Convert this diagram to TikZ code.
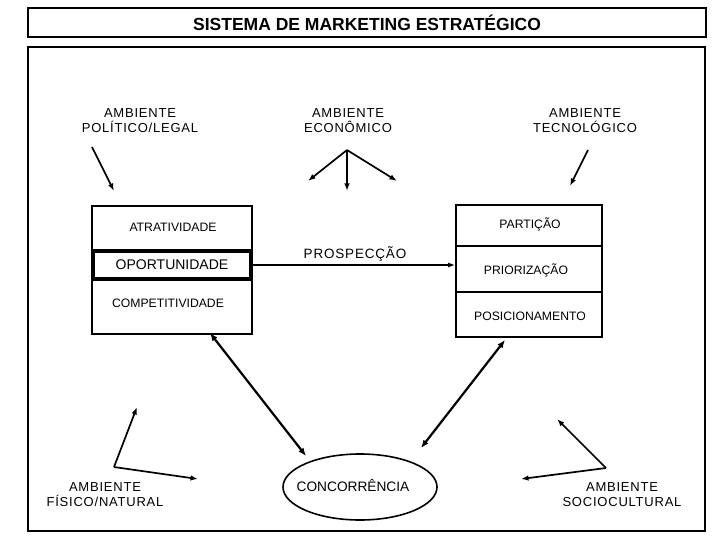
\documentclass[tikz,border=0pt]{standalone}
\usepackage{fontspec}
\setmainfont{Liberation Sans}
\newfontfamily\spacedfont[LetterSpace=6]{Liberation Sans}
\usetikzlibrary{arrows.meta,shapes.geometric}
\begin{document}
\begin{tikzpicture}[x=1pt,y=-1pt,
  lbl/.style={font=\spacedfont\fontsize{13}{15}\selectfont, align=center, inner sep=0pt},
  sml/.style={font=\fontsize{12.2}{14}\selectfont, inner sep=0pt},
  thinarrow/.style={line width=1.7pt, -{Latex[length=7.5pt,width=5.5pt]}},
  dblarrow/.style={line width=2.2pt, {Latex[length=8pt,width=6.5pt]}-{Latex[length=8pt,width=6.5pt]}},
  boxline/.style={draw, line width=1.6pt}]
\useasboundingbox (0,0) rectangle (720,540);
% title and frame
\node[draw, line width=2.6pt, minimum width=678pt, minimum height=29pt, inner sep=0pt,
  font=\fontsize{17.5}{19}\selectfont\bfseries] (title) at (367,22.5) {SISTEMA DE MARKETING ESTRATÉGICO};
\node[draw, line width=2.6pt, minimum width=677pt, minimum height=484pt] (frame) at (366.5,289) {};
% environments
\node[lbl] (pol) at (140,120.5) {AMBIENTE\\POLÍTICO/LEGAL};
\node[lbl] (eco) at (348,120.5) {AMBIENTE\\ECONÔMICO};
\node[lbl] (tec) at (585,120.5) {AMBIENTE\\TECNOLÓGICO};
\node[lbl] (fis) at (105,494.5) {AMBIENTE\\FÍSICO/NATURAL};
\node[lbl] (soc) at (622,494.5) {AMBIENTE\\SOCIOCULTURAL};
% left box
\node[boxline, minimum width=160pt, minimum height=128pt, inner sep=0pt] (lbox) at (172,270) {};
\node[draw, line width=4pt, minimum width=158pt, minimum height=28pt, inner sep=0pt] (opo) at (172,265)
  {\fontsize{14}{16}\selectfont OPORTUNIDADE};
\node[sml] (atr) at (173,227) {ATRATIVIDADE};
\node[sml] (comp) at (168,303) {COMPETITIVIDADE};
% right box
\node[boxline, minimum width=146pt, minimum height=132pt, inner sep=0pt] (rbox) at (529,271) {};
\draw[line width=1.6pt] (456,246) -- (602,246);
\draw[line width=1.6pt] (456,292) -- (602,292);
\node[sml] (part) at (530,224) {PARTIÇÃO};
\node[sml] (prio) at (526,270) {PRIORIZAÇÃO};
\node[sml] (posi) at (530,316) {POSICIONAMENTO};
% prospeccao
\node[lbl, font=\spacedfont\fontsize{13.5}{15}\selectfont] (prosp) at (355,254) {PROSPECÇÃO};
\draw[line width=1.8pt, -{Latex[length=7pt,width=5pt]}] (opo.east) -- (rbox.west |- opo.east);
% ellipse
\node[draw, ellipse, line width=1.6pt, minimum width=154pt, minimum height=66pt, inner sep=0pt] (ell) at (360,487) {};
\node[font=\fontsize{13.7}{15}\selectfont, inner sep=0pt] (conc) at (353,486) {CONCORRÊNCIA};
% arrow coordinates
\coordinate (p1) at (92,147);
\coordinate (p2) at (114,191);
\coordinate (e0) at (347,150);
\coordinate (e1) at (308,181);
\coordinate (e2) at (347,191);
\coordinate (e3) at (397,181);
\coordinate (t1) at (588,150);
\coordinate (t2) at (570,186);
\coordinate (f0) at (114,467);
\coordinate (f1) at (137,407);
\coordinate (f2) at (198,479);
\coordinate (s0) at (606,468);
\coordinate (s1) at (557,419);
\coordinate (s2) at (521,479);
\coordinate (d1a) at (210,333);
\coordinate (d1b) at (306,456);
\coordinate (d2a) at (505,340);
\coordinate (d2b) at (421,448);
\draw[thinarrow] (p1) -- (p2);
\draw[thinarrow] (e0) -- (e1);
\draw[thinarrow] (e0) -- (e2);
\draw[thinarrow] (e0) -- (e3);
\draw[thinarrow] (t1) -- (t2);
\draw[thinarrow] (f0) -- (f1);
\draw[thinarrow] (f0) -- (f2);
\draw[thinarrow] (s0) -- (s1);
\draw[thinarrow] (s0) -- (s2);
\draw[dblarrow] (d1a) -- (d1b);
\draw[dblarrow] (d2a) -- (d2b);
\end{tikzpicture}
\end{document}
